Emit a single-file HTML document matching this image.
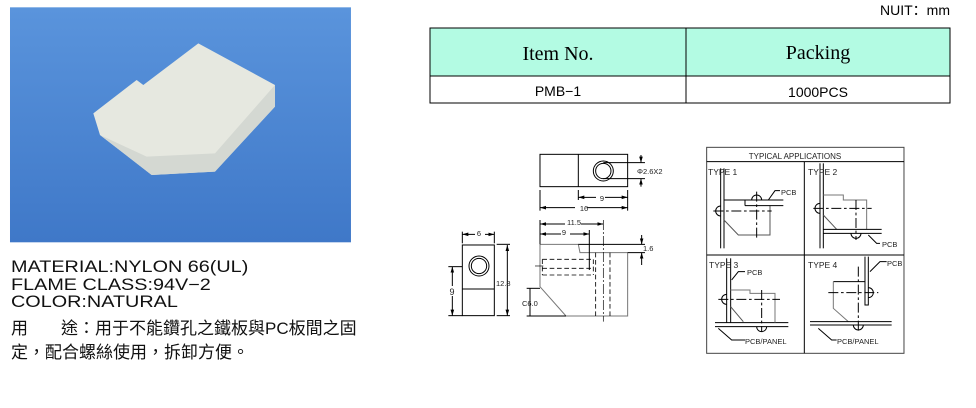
<!DOCTYPE html>
<html><head><meta charset="utf-8"><style>
body{margin:0;width:976px;height:408px;background:#fff;position:relative;overflow:hidden;font-family:"Liberation Sans","Noto Sans CJK TC",sans-serif}
.t{position:absolute;white-space:nowrap;color:#111}
</style></head><body>
<svg width="976" height="408" style="position:absolute;left:0;top:0" font-family="Liberation Sans, sans-serif">
<defs><linearGradient id="bg" x1="0" y1="0" x2="0" y2="1"><stop offset="0" stop-color="#5a94dc"/><stop offset="1" stop-color="#3f78c8"/></linearGradient>
<marker id="a" viewBox="0 0 10 10" refX="10" refY="5" markerWidth="6" markerHeight="6" orient="auto-start-reverse"><path d="M0,2L10,5L0,8z" fill="#000"/></marker></defs>
<g transform="scale(0.3333)">
<rect x="30" y="22" width="1023" height="705" fill="url(#bg)"/>
<polygon points="595,130 825,255 825,320 645,515 455,525 300,405 280,340 410,240 430,255" fill="#e6e8e0"/>
<polygon points="300,405 455,525 645,515 825,320 825,255 645,460 440,470" fill="#d4d8d2"/>
</g>
<rect x="430" y="28" width="520" height="48" fill="#b3fbe3"/>
<rect x="430" y="28" width="520" height="75" fill="none" stroke="#000" stroke-width="1"/>
<line x1="430" y1="76" x2="950" y2="76" stroke="#000"/>
<line x1="686" y1="28" x2="686" y2="103" stroke="#000"/>
<text x="558" y="60" font-family="Liberation Serif, serif" font-size="20" text-anchor="middle">Item No.</text>
<text x="818" y="59" font-family="Liberation Serif, serif" font-size="20" text-anchor="middle">Packing</text>
<text x="558" y="96" font-size="14" text-anchor="middle">PMB−1</text>
<text x="818" y="97" font-size="14" text-anchor="middle">1000PCS</text>
<text x="950" y="15" font-size="14" text-anchor="end">NUIT：mm</text>
<g transform="translate(430,140) scale(0.3333)" stroke="#000" stroke-width="3" fill="none">
<rect x="330" y="43" width="263" height="97"/><line x1="445" y1="43" x2="445" y2="140"/>
<circle cx="520" cy="93" r="30"/><circle cx="520" cy="93" r="23"/>
<line x1="520" y1="68" x2="645" y2="68"/><line x1="520" y1="116" x2="645" y2="116"/>
<line x1="633" y1="45" x2="633" y2="68" marker-end="url(#a)"/><line x1="633" y1="140" x2="633" y2="116" marker-end="url(#a)"/>
<line x1="330" y1="150" x2="330" y2="212"/><line x1="593" y1="150" x2="593" y2="212"/><line x1="445" y1="150" x2="445" y2="180"/>
<line x1="445" y1="172" x2="593" y2="172" marker-start="url(#a)" marker-end="url(#a)"/>
<line x1="330" y1="203" x2="593" y2="203" marker-start="url(#a)" marker-end="url(#a)"/>
<polyline points="330,313 445,313 450,338 593,338 593,528 408,528 330,440 330,313" stroke="#777"/>
<g stroke-dasharray="14,8" stroke-width="2.5"><line x1="337" y1="358" x2="490" y2="358"/><line x1="337" y1="385" x2="490" y2="385"/><line x1="337" y1="405" x2="490" y2="405"/><line x1="337" y1="358" x2="337" y2="405"/><line x1="490" y1="358" x2="490" y2="405"/><line x1="497" y1="338" x2="497" y2="528"/><line x1="540" y1="338" x2="540" y2="528"/></g>
<line x1="520" y1="240" x2="520" y2="545" stroke-width="2" stroke-dasharray="30,6,6,6"/>
<line x1="315" y1="378" x2="340" y2="378" stroke-width="2"/>
<line x1="330" y1="240" x2="330" y2="313"/><line x1="478" y1="270" x2="478" y2="390"/>
<line x1="330" y1="252" x2="520" y2="252" marker-start="url(#a)" marker-end="url(#a)"/>
<line x1="330" y1="282" x2="478" y2="282" marker-start="url(#a)" marker-end="url(#a)"/>
<line x1="445" y1="313" x2="645" y2="313"/><line x1="593" y1="338" x2="645" y2="338"/>
<line x1="635" y1="285" x2="635" y2="313" marker-end="url(#a)"/><line x1="635" y1="375" x2="635" y2="338" marker-end="url(#a)"/>
<line x1="290" y1="445" x2="330" y2="445"/><line x1="290" y1="528" x2="408" y2="528"/>
<line x1="300" y1="445" x2="300" y2="528"/>
<rect x="97" y="315" width="96" height="212"/><line x1="97" y1="447" x2="193" y2="447"/>
<circle cx="147" cy="378" r="30"/><circle cx="147" cy="378" r="23"/>
<line x1="97" y1="275" x2="97" y2="310"/><line x1="193" y1="275" x2="193" y2="310"/>
<line x1="97" y1="283" x2="193" y2="283" marker-start="url(#a)" marker-end="url(#a)"/>
<line x1="200" y1="313" x2="240" y2="313"/><line x1="200" y1="527" x2="240" y2="527"/>
<line x1="232" y1="315" x2="232" y2="527" marker-start="url(#a)" marker-end="url(#a)"/>
<line x1="55" y1="380" x2="97" y2="380"/><line x1="55" y1="527" x2="97" y2="527"/>
<line x1="67" y1="380" x2="67" y2="527" marker-start="url(#a)" marker-end="url(#a)"/>
</g>
<g font-size="7.5" fill="#222">
<text x="637" y="174">Φ2.6X2</text>
<rect x="596" y="194" width="9" height="9" fill="#fff"/><text x="602" y="201" text-anchor="middle">9</text>
<rect x="575" y="204" width="12" height="9" fill="#fff"/><text x="584" y="211" text-anchor="middle">16</text>
<rect x="565" y="218" width="16" height="9" fill="#fff"/><text x="574" y="225" text-anchor="middle">11.5</text>
<rect x="561" y="228" width="9" height="9" fill="#fff"/><text x="564" y="235" text-anchor="middle">9</text>
<text x="643" y="251">1.6</text>
<text x="522" y="306">C6.0</text>
<rect x="475" y="229" width="10" height="9" fill="#fff"/><text x="479" y="236" text-anchor="middle">6</text>
<text x="496" y="286">12.8</text>
<rect x="447" y="286" width="10" height="10" fill="#fff"/><text x="452" y="295" text-anchor="middle" font-size="9">9</text>
</g>
<g transform="translate(700,140) scale(0.3333)" stroke="#000" stroke-width="3" fill="none">
<rect x="20" y="22" width="592" height="618" stroke="#444"/>
<line x1="20" y1="65" x2="612" y2="65"/><line x1="313" y1="65" x2="313" y2="640"/><line x1="20" y1="345" x2="612" y2="345"/>
<line x1="62" y1="85" x2="62" y2="325"/><line x1="72" y1="85" x2="72" y2="325"/>
<polyline points="72,180 135,180"/><polyline points="210,197 210,285 115,285 72,240" stroke="#555"/>
<line x1="135" y1="180" x2="250" y2="180"/><line x1="135" y1="197" x2="250" y2="197"/><line x1="135" y1="180" x2="135" y2="197"/>
<path d="M155,180 A15,15 0 0 1 185,180"/><path d="M62,198 A15,15 0 0 0 62,228"/>
<line x1="170" y1="155" x2="170" y2="295" stroke-dasharray="30,8,8,8"/><line x1="40" y1="213" x2="215" y2="213" stroke-dasharray="30,8,8,8"/>
<polyline points="205,180 225,152 240,152"/>
<line x1="360" y1="70" x2="360" y2="325"/><line x1="370" y1="70" x2="370" y2="325"/>
<polyline points="370,165 430,165 430,180 500,180 500,268" stroke="#777"/><polyline points="410,268 370,225" stroke="#555"/>
<line x1="370" y1="268" x2="545" y2="268"/><line x1="370" y1="280" x2="545" y2="280"/>
<line x1="340" y1="205" x2="515" y2="205" stroke-dasharray="30,8,8,8"/><line x1="468" y1="180" x2="468" y2="300" stroke-dasharray="30,8,8,8"/>
<path d="M360,190 A15,15 0 0 0 360,220"/><path d="M453,280 A15,15 0 0 0 483,280"/>
<polyline points="505,285 530,310 540,310"/>
<line x1="80" y1="355" x2="80" y2="548"/><line x1="92" y1="355" x2="92" y2="548"/>
<line x1="45" y1="548" x2="265" y2="548"/><line x1="45" y1="560" x2="265" y2="560"/>
<polyline points="92,450 150,450 150,460 225,460 225,548" stroke="#777"/><polyline points="92,500 130,545" stroke="#555"/>
<line x1="55" y1="478" x2="240" y2="478" stroke-dasharray="30,8,8,8"/><line x1="185" y1="450" x2="185" y2="575" stroke-dasharray="30,8,8,8"/>
<path d="M80,463 A15,15 0 0 0 80,493"/><path d="M170,560 A15,15 0 0 0 200,560"/>
<polyline points="95,420 115,395 135,395"/><polyline points="55,565 95,600 135,600"/>
<path d="M495,350 L495,495 L505,495 L505,350"/>
<polyline points="400,425 495,425"/><polyline points="400,425 400,505 445,545" stroke="#777"/>
<line x1="330" y1="545" x2="575" y2="545"/><line x1="330" y1="555" x2="575" y2="555"/>
<line x1="385" y1="458" x2="535" y2="458" stroke-dasharray="30,8,8,8"/><line x1="475" y1="380" x2="475" y2="575" stroke-dasharray="30,8,8,8"/>
<path d="M505,443 A15,15 0 0 1 505,473"/><path d="M460,555 A15,15 0 0 0 490,555"/>
<polyline points="510,395 540,365 560,365"/><polyline points="355,565 395,600 410,600"/>
</g>
<g font-size="8.5" fill="#222">
<text x="795" y="159" text-anchor="middle" font-size="8">TYPICAL APPLICATIONS</text>
<text x="708" y="175">TYPE 1</text><text x="808" y="175">TYPE 2</text>
<text x="709" y="268">TYPE 3</text><text x="808" y="268">TYPE 4</text>
<text x="781" y="195" font-size="7.5">PCB</text><text x="882" y="247" font-size="7.5">PCB</text>
<text x="747" y="275" font-size="7.5">PCB</text><text x="887" y="266" font-size="7.5">PCB</text>
<text x="745" y="344" font-size="7.5">PCB/PANEL</text><text x="837" y="344" font-size="7.5">PCB/PANEL</text>
</g>
</svg>
<div class="t" style="left:11px;top:259px;font-size:16.5px;line-height:17.5px;transform:scaleX(1.2);transform-origin:0 0">MATERIAL:NYLON 66(UL)<br>FLAME CLASS:94V−2<br>COLOR:NATURAL</div>
<div class="t" style="left:11px;top:317px;font-size:17px;line-height:24px">用&nbsp;&nbsp;&nbsp;&nbsp;&nbsp;&nbsp;&nbsp;途：用于不能鑽孔之鐵板與PC板間之固<br>定，配合螺絲使用，拆卸方便。</div>
</body></html>
